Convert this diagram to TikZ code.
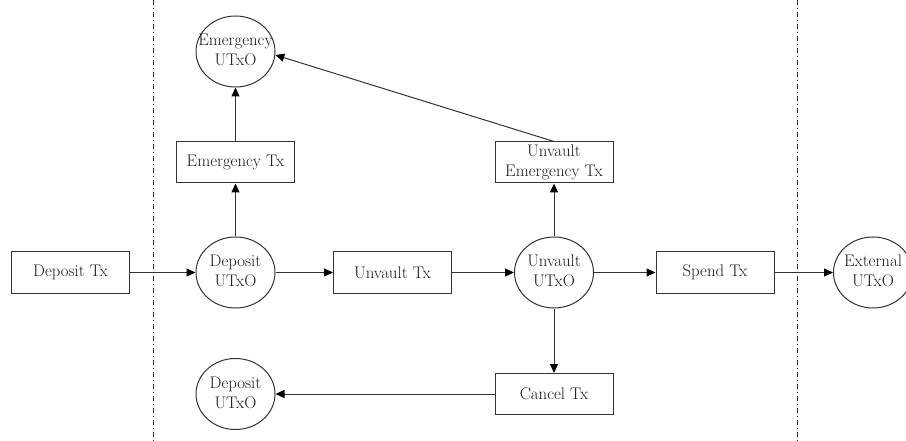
\documentclass[tikz,border=0pt]{standalone}
\usepackage{fontspec}
\usetikzlibrary{shapes.geometric,arrows.meta}
\newcommand{\twolines}[2]{\makebox[0pt]{\begin{tabular}{@{}c@{}}#1\\#2\end{tabular}}}
\begin{document}
\begin{tikzpicture}[x=1pt,y=-1pt,
  every node/.style={font=\fontsize{16.8}{20}\selectfont, text=black!90},
  txbox/.style={draw=black!80, line width=1pt, rectangle, minimum width=118pt, minimum height=41pt, inner sep=1pt, align=center},
  utxo/.style={draw=black!80, line width=1pt, ellipse, minimum width=79pt, minimum height=71pt, inner sep=0pt},
  conn/.style={draw=black!80, line width=1pt, -{Triangle[length=9pt,width=8pt,fill=black,color=black]}},
  sep/.style={draw=black!85, line width=0.8pt, dash pattern=on 5pt off 3pt on 1pt off 3pt}]
\useasboundingbox (0,0) rectangle (906,441);
\coordinate (s1t) at (153,0);
\coordinate (s1b) at (153,441);
\coordinate (s2t) at (797,0);
\coordinate (s2b) at (797,441);
\draw[sep] (s1t) -- (s1b);
\draw[sep] (s2t) -- (s2b);

\node[txbox] (dtx) at (70.5,272.5) {Deposit Tx};
\node[utxo] (dutxo) at (235.5,272.5) {\twolines{Deposit}{UTxO}};
\node[txbox] (utx) at (392.5,272.5) {Unvault Tx};
\node[utxo] (uutxo) at (554,272.5) {\twolines{Unvault}{UTxO}};
\node[txbox] (stx) at (715,272.5) {Spend Tx};
\node[utxo] (eout) at (873,272.5) {\twolines{External}{UTxO}};
\node[txbox] (etx) at (235.5,162.5) {Emergency Tx};
\node[utxo] (eutxo) at (235.5,51.5) {\twolines{Emergency}{UTxO}};
\node[txbox] (uetx) at (554,162.5) {Unvault\\Emergency Tx};
\node[txbox] (ctx) at (554,394) {Cancel Tx};
\node[utxo] (dutxo2) at (235.5,394) {\twolines{Deposit}{UTxO}};

\draw[conn] (dtx) -- (dutxo);
\draw[conn] (dutxo) -- (utx);
\draw[conn] (utx) -- (uutxo);
\draw[conn] (uutxo) -- (stx);
\draw[conn] (stx) -- (eout);
\draw[conn] (dutxo) -- (etx);
\draw[conn] (etx) -- (eutxo);
\draw[conn] (uutxo) -- (uetx);
\draw[conn] (uetx.north) -- (eutxo.-5);
\draw[conn] (uutxo) -- (ctx);
\draw[conn] (ctx) -- (dutxo2);
\end{tikzpicture}
\end{document}
